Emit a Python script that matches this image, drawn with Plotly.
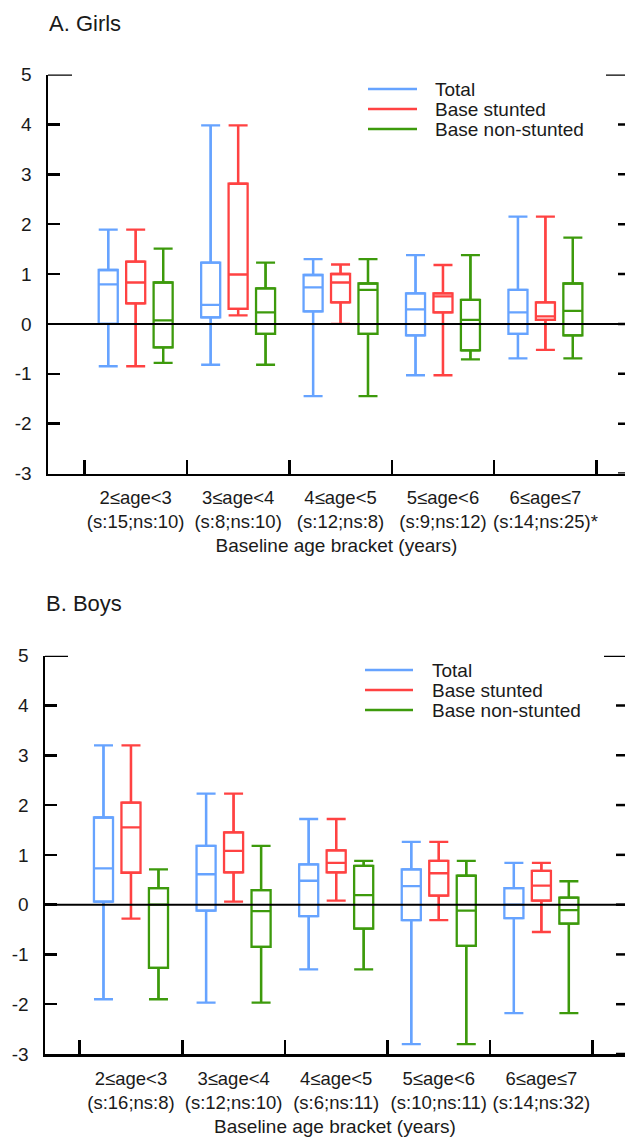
import plotly.graph_objects as go

FONT = "Liberation Sans, Arial, sans-serif"
TXT = "#1a1a1a"

series_names = ["Total", "Base stunted", "Base non-stunted"]
colors = ["#66A3FF", "#FF4242", "#3D9A0C"]

girls_labels = ["2≤age<3<br>(s:15;ns:10)", "3≤age<4<br>(s:8;ns:10)", "4≤age<5<br>(s:12;ns:8)",
                "5≤age<6<br>(s:9;ns:12)", "6≤age≤7<br>(s:14;ns:25)*"]
boys_labels = ["2≤age<3<br>(s:16;ns:8)", "3≤age<4<br>(s:12;ns:10)", "4≤age<5<br>(s:6;ns:11)",
               "5≤age<6<br>(s:10;ns:11)", "6≤age≤7<br>(s:14;ns:32)"]

# Girls: per series lists over the 5 brackets
girls_upper = [[1.89, 3.98, 1.30, 1.38, 2.15],
               [1.89, 3.98, 1.19, 1.18, 2.15],
               [1.51, 1.23, 1.30, 1.38, 1.73]]
girls_q3 = [[1.08, 1.23, 0.98, 0.61, 0.68],
            [1.25, 2.81, 1.00, 0.61, 0.43],
            [0.83, 0.71, 0.81, 0.48, 0.81]]
girls_median = [[0.79, 0.38, 0.73, 0.29, 0.23],
                [0.83, 0.99, 0.83, 0.55, 0.15],
                [0.07, 0.23, 0.68, 0.08, 0.26]]
girls_q1 = [[0.00, 0.13, 0.25, -0.23, -0.20],
            [0.41, 0.30, 0.43, 0.23, 0.08],
            [-0.47, -0.20, -0.20, -0.53, -0.23]]
girls_lower = [[-0.85, -0.82, -1.45, -1.03, -0.69],
               [-0.85, 0.17, 0.00, -1.03, -0.52],
               [-0.78, -0.82, -1.45, -0.71, -0.69]]

# Boys
boys_upper = [[3.20, 2.23, 1.72, 1.26, 0.84],
              [3.20, 2.23, 1.72, 1.26, 0.84],
              [0.71, 1.18, 0.88, 0.88, 0.47]]
boys_q3 = [[1.75, 1.18, 0.81, 0.71, 0.33],
           [2.05, 1.45, 1.09, 0.88, 0.68],
           [0.33, 0.29, 0.78, 0.58, 0.14]]
boys_median = [[0.73, 0.61, 0.48, 0.37, 0.00],
               [1.55, 1.08, 0.84, 0.63, 0.38],
               [0.00, -0.13, 0.19, -0.12, -0.11]]
boys_q1 = [[0.06, -0.12, -0.23, -0.31, -0.27],
           [0.64, 0.65, 0.65, 0.18, 0.08],
           [-1.27, -0.85, -0.48, -0.83, -0.38]]
boys_lower = [[-1.90, -1.97, -1.30, -2.80, -2.18],
              [-0.28, 0.06, 0.08, -0.31, -0.55],
              [-1.90, -1.97, -1.30, -2.80, -2.18]]

y_ticks = [-3, -2, -1, 0, 1, 2, 3, 4, 5]
y_ticktext = ["-3", "-2", "-1", "0", "1", "2", "3", "4", "5"]

offsets = [-0.268, 0.0, 0.268]
box_w = 0.186

fig = go.Figure()

def add_panel(xa, ya, upper, q3, med, q1, lower):
    for k in range(3):
        xs = [i + offsets[k] for i in range(5)]
        fig.add_trace(go.Box(
            x=xs, q1=q1[k], median=med[k], q3=q3[k],
            lowerfence=lower[k], upperfence=upper[k],
            width=box_w, fillcolor="rgba(0,0,0,0)",
            line=dict(color=colors[k], width=2.3),
            boxpoints=False, whiskerwidth=0, showlegend=False, name=series_names[k],
            hoverinfo="skip", xaxis=xa, yaxis=ya))
        # whisker caps (upper)
        fig.add_trace(go.Scatter(
            x=xs, y=q3[k], mode="markers", marker=dict(size=0.1, color="rgba(0,0,0,0)"),
            error_y=dict(type="data", symmetric=False,
                         array=[u - q for u, q in zip(upper[k], q3[k])],
                         arrayminus=[0] * 5, color=colors[k], thickness=2.3, width=9.5),
            showlegend=False, hoverinfo="skip", xaxis=xa, yaxis=ya))
        # whisker caps (lower)
        fig.add_trace(go.Scatter(
            x=xs, y=q1[k], mode="markers", marker=dict(size=0.1, color="rgba(0,0,0,0)"),
            error_y=dict(type="data", symmetric=False,
                         array=[0] * 5,
                         arrayminus=[q - l for q, l in zip(q1[k], lower[k])],
                         color=colors[k], thickness=2.3, width=9.5),
            showlegend=False, hoverinfo="skip", xaxis=xa, yaxis=ya))

add_panel("x", "y", girls_upper, girls_q3, girls_median, girls_q1, girls_lower)
add_panel("x2", "y2", boys_upper, boys_q3, boys_median, boys_q1, boys_lower)

H = 1142.0
W = 625.0

def xaxis_cfg(domain, rng, labels, anchor):
    return dict(
        domain=domain, range=rng, anchor=anchor, automargin=False,
        showline=True, linecolor="black", linewidth=2.5,
        tickmode="array", tickvals=list(range(5)), ticktext=labels,
        ticks="", tickfont=dict(family=FONT, size=18.5, color=TXT),
        ticklabelstandoff=6,
        minor=dict(tickmode="array", tickvals=[-0.5, 0.5, 1.5, 2.5, 3.5, 4.5],
                   ticks="inside", ticklen=14, tickwidth=2.5, tickcolor="black", showgrid=False),
        showgrid=False, zeroline=False, fixedrange=True,
        title=dict(text="Baseline age bracket (years)", font=dict(family=FONT, size=19, color=TXT),
                   standoff=8),
    )

def yaxis_cfg(domain, anchor):
    return dict(
        domain=domain, range=[-3, 5], anchor=anchor, automargin=False,
        showline=True, linecolor="black", linewidth=2.5,
        tickmode="array", tickvals=y_ticks, ticktext=y_ticktext,
        ticks="inside", ticklen=12, tickwidth=2.5, tickcolor="black",
        tickfont=dict(family=FONT, size=19, color=TXT), ticklabelstandoff=10,
        showgrid=False, zeroline=False, fixedrange=True,
    )

fig.update_layout(
    width=W, height=H, autosize=False,
    margin=dict(l=0, r=0, t=0, b=0, pad=0),
    paper_bgcolor="white", plot_bgcolor="white",
    font=dict(family=FONT, color=TXT),
    xaxis=xaxis_cfg([48 / W, 1], [-0.856, 4.777], girls_labels, "y"),
    yaxis=yaxis_cfg([1 - 473.5 / H, 1 - 74.5 / H], "x"),
    xaxis2=xaxis_cfg([45 / W, 1], [-0.838, 4.815], boys_labels, "y2"),
    yaxis2=yaxis_cfg([1 - 1054 / H, 1 - 655.7 / H], "x2"),
    showlegend=False,
)

# panel titles
fig.add_annotation(text="A. Girls", x=47 / W, y=1 - 23 / H, xref="paper", yref="paper",
                   xanchor="left", yanchor="middle", showarrow=False,
                   font=dict(family=FONT, size=22, color=TXT))
fig.add_annotation(text="B. Boys", x=44 / W, y=1 - 603 / H, xref="paper", yref="paper",
                   xanchor="left", yanchor="middle", showarrow=False,
                   font=dict(family=FONT, size=22, color=TXT))

# legends (drawn as key lines + labels), positioned in pixels
legend_boxes = [(368, 417, 433, [89, 109, 129]), (365, 413, 430, [670, 690, 710])]
for (lx0, lx1, tx, rows) in legend_boxes:
    for k in range(3):
        yy = 1 - rows[k] / H
        fig.add_shape(type="line", xref="paper", yref="paper", x0=lx0 / W, x1=lx1 / W, y0=yy, y1=yy,
                      line=dict(color=colors[k], width=2.5))
        fig.add_annotation(text=series_names[k], x=tx / W, y=yy, xref="paper", yref="paper",
                           xanchor="left", yanchor="middle", showarrow=False,
                           font=dict(family=FONT, size=19, color=TXT))

# zero lines above boxes, long tick at top, right-side ticks
for xx, yr, wdom, long_left, right_short, right_long in [
        ("x", "y", 577.0, 24, 7, 19),
        ("x2", "y2", 580.0, 23, 9, 21)]:
    fig.add_shape(type="line", xref=xx + " domain", yref=yr, x0=0, x1=1, y0=0, y1=0,
                  line=dict(color="black", width=2), layer="above")
    fig.add_shape(type="line", xref=xx + " domain", yref=yr, x0=0, x1=long_left / wdom, y0=5, y1=5,
                  line=dict(color="black", width=2.5), layer="above")
    for t in y_ticks:
        ln = right_long if t == 5 else right_short
        fig.add_shape(type="line", xref=xx + " domain", yref=yr, x0=1 - ln / wdom, x1=1, y0=t, y1=t,
                      line=dict(color="black", width=2.5), layer="above")

fig.write_html("out.html", config={"displayModeBar": False, "staticPlot": True},
               post_script="document.body.style.margin='0px';")
